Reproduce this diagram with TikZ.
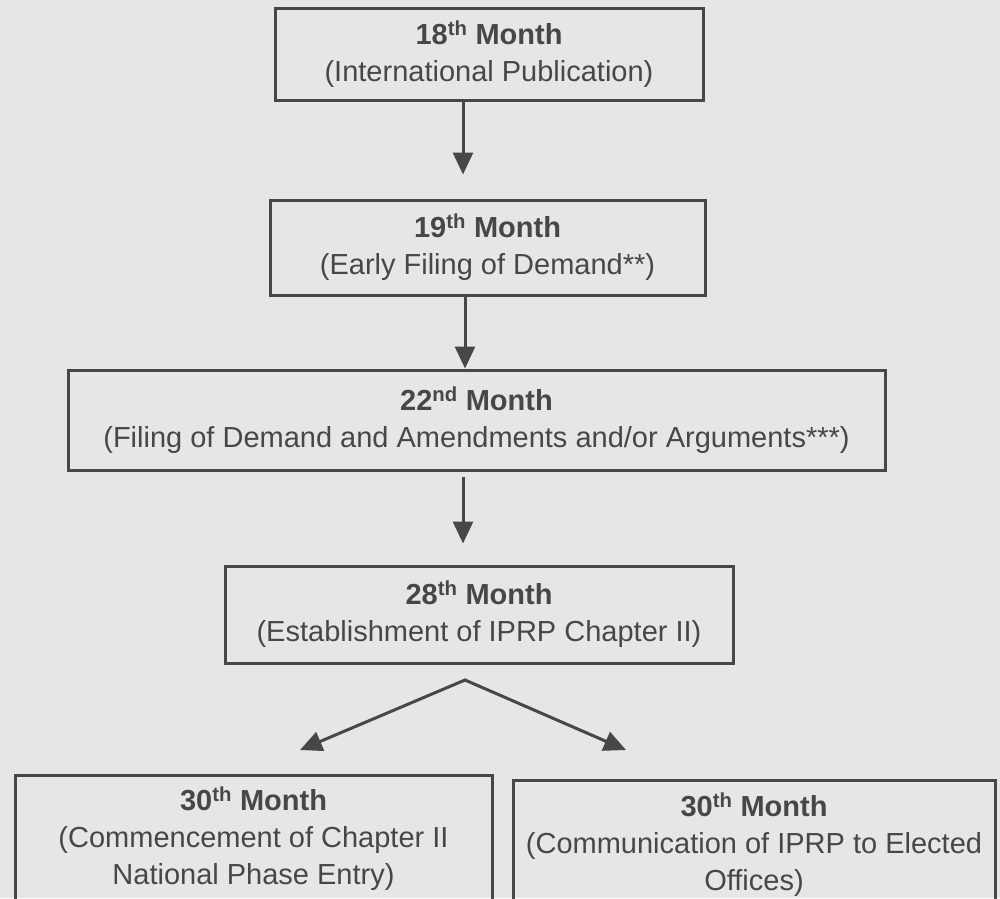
\documentclass[tikz,border=0pt]{standalone}
\usepackage{fontspec}
\setmainfont{Liberation Sans}
\usetikzlibrary{arrows.meta}
\definecolor{paper}{HTML}{E6E6E4}
\definecolor{ink}{HTML}{474747}
\newcommand{\mth}[1]{{\bfseries #1 Month}}
\newcommand{\ord}[2]{#1\textsuperscript{#2}}
\begin{document}
\begin{tikzpicture}[x=1pt,y=-1pt,
  stagebox/.style={draw=ink, line width=3pt, text=ink, align=center,
    inner sep=0pt, font=\fontsize{29}{37}\selectfont},
  flow/.style={draw=ink, line width=3pt,
    -{Triangle[width=20pt,length=22pt]}},
  split/.style={draw=ink, line width=3pt, line join=miter,
    {Triangle[width=20pt,length=22pt]}-{Triangle[width=20pt,length=22pt]}}]
  \fill[paper] (0,0) rectangle (1000,898);
  \clip (0,0) rectangle (1000,898);

  \node[stagebox, minimum width=428pt, minimum height=92pt] (m18) at (489,54)
    {\mth{\ord{18}{th}}\\(International Publication)};
  \node[stagebox, minimum width=435pt, minimum height=95pt] (m19) at (487.5,247.5)
    {\mth{\ord{19}{th}}\\(Early Filing of Demand**)};
  \node[stagebox, minimum width=817pt, minimum height=100pt] (m22) at (476.5,420)
    {\mth{\ord{22}{nd}}\\(Filing of Demand and Amendments and/or Arguments***)};
  \node[stagebox, minimum width=508pt, minimum height=97pt] (m28) at (479,614.5)
    {\mth{\ord{28}{th}}\\(Establishment of IPRP Chapter II)};
  \node[stagebox, minimum width=477pt, minimum height=127pt] (m30a) at (253.5,838.5)
    {\mth{\ord{30}{th}}\\(Commencement of Chapter II\\National Phase Entry)};
  \node[stagebox, minimum width=482pt, minimum height=130pt] (m30b) at (754,845)
    {\mth{\ord{30}{th}}\\(Communication of IPRP to Elected\\Offices)};

  \draw[flow, shorten >=24pt] ([xshift=-26pt]m18.south) -- ([xshift=-24.5pt]m19.north);
  \draw[flow] ([xshift=-22.5pt]m19.south) -- ([xshift=-11.5pt]m22.north);
  \draw[flow, shorten <=5pt, shorten >=21pt] ([xshift=-13.5pt]m22.south) -- ([xshift=-16pt]m28.north);

  \coordinate (apex) at (465,680);
  \coordinate (tipL) at (300,750);
  \coordinate (tipR) at (626,750);
  \draw[split] (tipL) -- (apex) -- (tipR);
\end{tikzpicture}
\end{document}
